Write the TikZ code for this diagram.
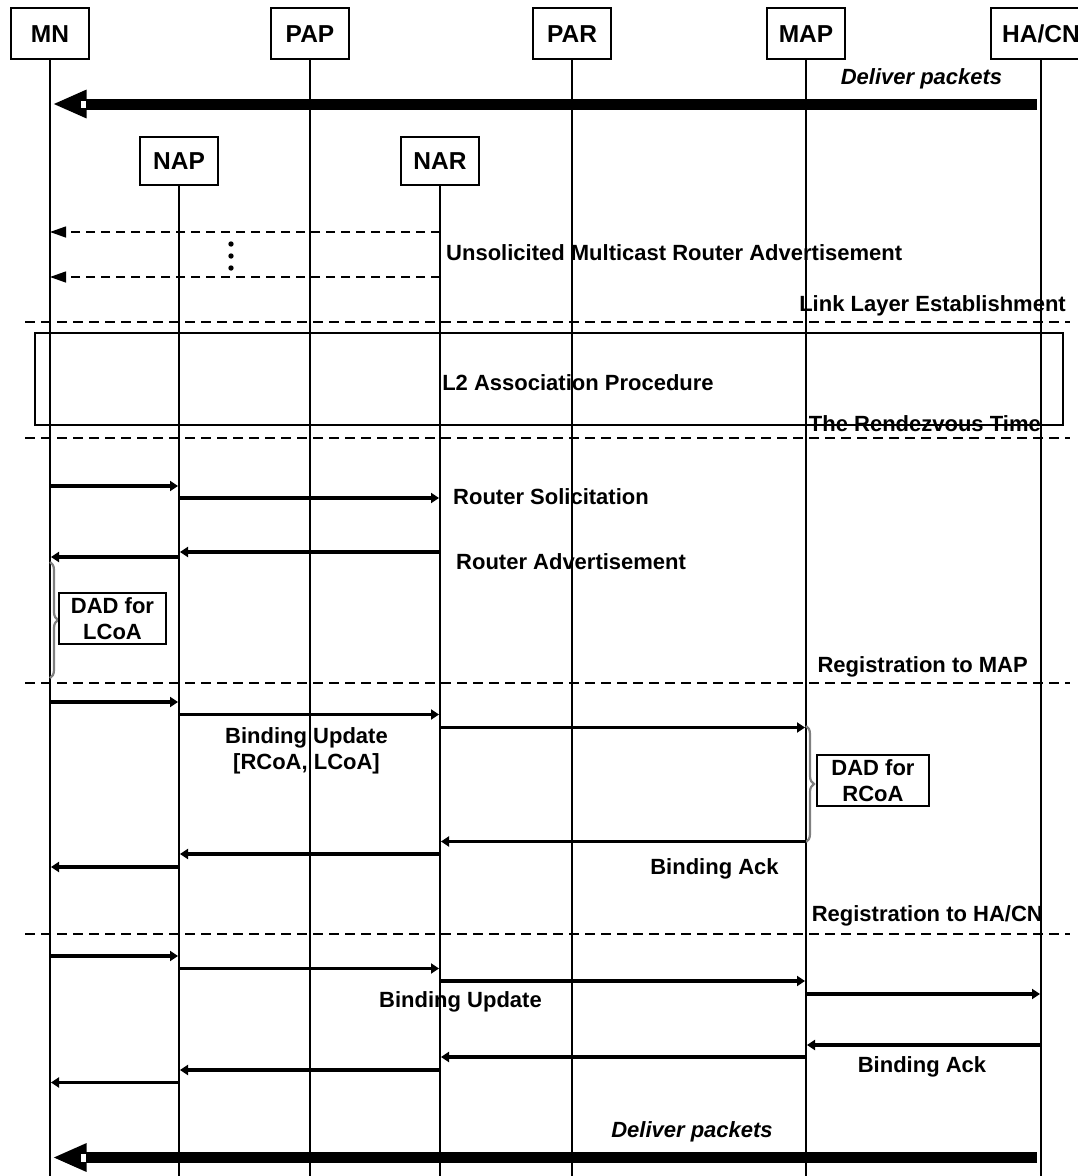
\documentclass[tikz,border=0pt]{standalone}
\usepackage{fontspec}
\setmainfont{Liberation Sans}
\usetikzlibrary{arrows.meta,decorations.pathreplacing,calc}
\begin{document}
\begin{tikzpicture}[x=1pt,y=-1pt,
  actor/.style={draw,line width=1.2pt,inner sep=0pt,minimum width=78pt,text height=17.5pt,text depth=0pt,font=\fontsize{24.5}{28}\selectfont\bfseries},
  life/.style={line width=1.3pt},
  msg/.style={line width=3.8pt,-{Triangle[length=8pt,width=10pt]},shorten >=1pt},
  dmsg/.style={line width=1.3pt,dash pattern=on 9pt off 6pt,-{Triangle[length=16pt,width=11pt]}},
  sep/.style={line width=1.2pt,dash pattern=on 10pt off 6pt},
  big/.style={line width=11pt,-{Triangle[length=34pt,width=26pt]},shorten <=4pt,shorten >=2.5pt},
  lbl/.style={font=\fontsize{22}{26}\selectfont\bfseries,inner sep=0pt,align=center},
  ilbl/.style={font=\fontsize{22}{26}\selectfont\bfseries\itshape,inner sep=0pt},
  dadbox/.style={draw,line width=1.2pt,inner sep=0pt,align=center,font=\fontsize{22}{26}\selectfont\bfseries},
  brc/.style={draw=black!50,line width=2.2pt,decorate,decoration={brace,amplitude=8pt}}
]
\useasboundingbox (0,0) rectangle (1078,1176);
% actors
\node[actor,minimum height=51pt] (MN) at (50,33.5) {MN};
\node[actor,minimum height=51pt] (PAP) at (310,33.5) {PAP};
\node[actor,minimum height=51pt] (PAR) at (572,33.5) {PAR};
\node[actor,minimum height=51pt] (MAP) at (806,33.5) {MAP};
\node[actor,minimum height=51pt,minimum width=100pt] (HA) at (1041,33.5) {HA/CN};
\node[actor,minimum height=48pt] (NAP) at (179,161) {NAP};
\node[actor,minimum height=48pt] (NAR) at (440,161) {NAR};
% lifelines
\foreach \a in {MN,PAP,PAR,MAP,HA,NAP,NAR}
  \draw[life] (\a.south) -- (\a.south |- 0,1176);
% deliver packets top
\node[ilbl] (dp1) at (921.5,79) {Deliver packets};
\draw[big] (HA.south |- 0,104) -- (MN.south |- 0,104);
\fill[white] (80.5,100.5) rectangle (86,108);
% unsolicited RA
\draw[dmsg] (NAR.south |- 0,232) -- (MN.south |- 0,232);
\draw[dmsg] (NAR.south |- 0,277) -- (MN.south |- 0,277);
\foreach \yy in {244,256,268} \fill (231,\yy) circle (2.7pt);
\node[lbl,anchor=west] (ura) at (446,253) {Unsolicited Multicast Router Advertisement};
% link layer
\node[lbl,anchor=east] (lle) at (1066,306) {Link Layer Establishment};
\draw[sep] (25,322) -- (1070,322);
\draw[line width=1.2pt] (35,333) rectangle (1063,425);
\node[lbl] (l2) at (578,383) {L2 Association Procedure};
\node[lbl,anchor=east] (rt) at (1041,424) {The Rendezvous Time};
\draw[sep] (25,438) -- (1070,438);
% router solicitation / advertisement
\draw[msg] (MN.south |- 0,486) -- (NAP.south |- 0,486);
\draw[msg] (NAP.south |- 0,498) -- (NAR.south |- 0,498);
\node[lbl,anchor=west] (rs) at (453,497) {Router Solicitation};
\draw[msg] (NAR.south |- 0,552) -- (NAP.south |- 0,552);
\draw[msg] (NAP.south |- 0,557) -- (MN.south |- 0,557);
\node[lbl,anchor=west] (ra) at (456,562) {Router Advertisement};
\draw[brc] (MN.south |- 0,562) -- (MN.south |- 0,678);
\node[dadbox,minimum width=107pt,minimum height=51pt] (dad1) at (112.5,618.5) {DAD for\\LCoA};
% registration to MAP
\node[lbl,anchor=east] (rmap) at (1028,667) {Registration to MAP};
\draw[sep] (25,683) -- (1070,683);
\draw[msg] (MN.south |- 0,702) -- (NAP.south |- 0,702);
\draw[msg] (NAP.south |- 0,714.5) -- (NAR.south |- 0,714.5);
\draw[msg] (NAR.south |- 0,727.5) -- (MAP.south |- 0,727.5);
\node[lbl] (bu1) at (306.5,751) {Binding Update\\{}[RCoA, LCoA]};
\draw[brc] (MAP.south |- 0,726) -- (MAP.south |- 0,842);
\node[dadbox,minimum width=112pt,minimum height=51pt] (dad2) at (873,780.5) {DAD for\\RCoA};
\draw[msg] (MAP.south |- 0,841.5) -- (NAR.south |- 0,841.5);
\draw[msg] (NAR.south |- 0,854) -- (NAP.south |- 0,854);
\draw[msg] (NAP.south |- 0,867) -- (MN.south |- 0,867);
\node[lbl] (ba1) at (714.5,869) {Binding Ack};
% registration to HA/CN
\node[lbl,anchor=east] (rha) at (1043,916) {Registration to HA/CN};
\draw[sep] (25,934) -- (1070,934);
\draw[msg] (MN.south |- 0,956) -- (NAP.south |- 0,956);
\draw[msg] (NAP.south |- 0,968.5) -- (NAR.south |- 0,968.5);
\draw[msg] (NAR.south |- 0,981) -- (MAP.south |- 0,981);
\draw[msg] (MAP.south |- 0,994) -- (HA.south |- 0,994);
\node[lbl] (bu2) at (460.5,1002) {Binding Update};
\draw[msg] (HA.south |- 0,1045) -- (MAP.south |- 0,1045);
\draw[msg] (MAP.south |- 0,1057) -- (NAR.south |- 0,1057);
\draw[msg] (NAR.south |- 0,1070) -- (NAP.south |- 0,1070);
\draw[msg] (NAP.south |- 0,1082.5) -- (MN.south |- 0,1082.5);
\node[lbl] (ba2) at (922,1067) {Binding Ack};
% deliver packets bottom
\node[ilbl] (dp2) at (692,1132) {Deliver packets};
\draw[big] (HA.south |- 0,1157.5) -- (MN.south |- 0,1157.5);
\fill[white] (80.5,1154) rectangle (86,1161.5);
\end{tikzpicture}
\end{document}
